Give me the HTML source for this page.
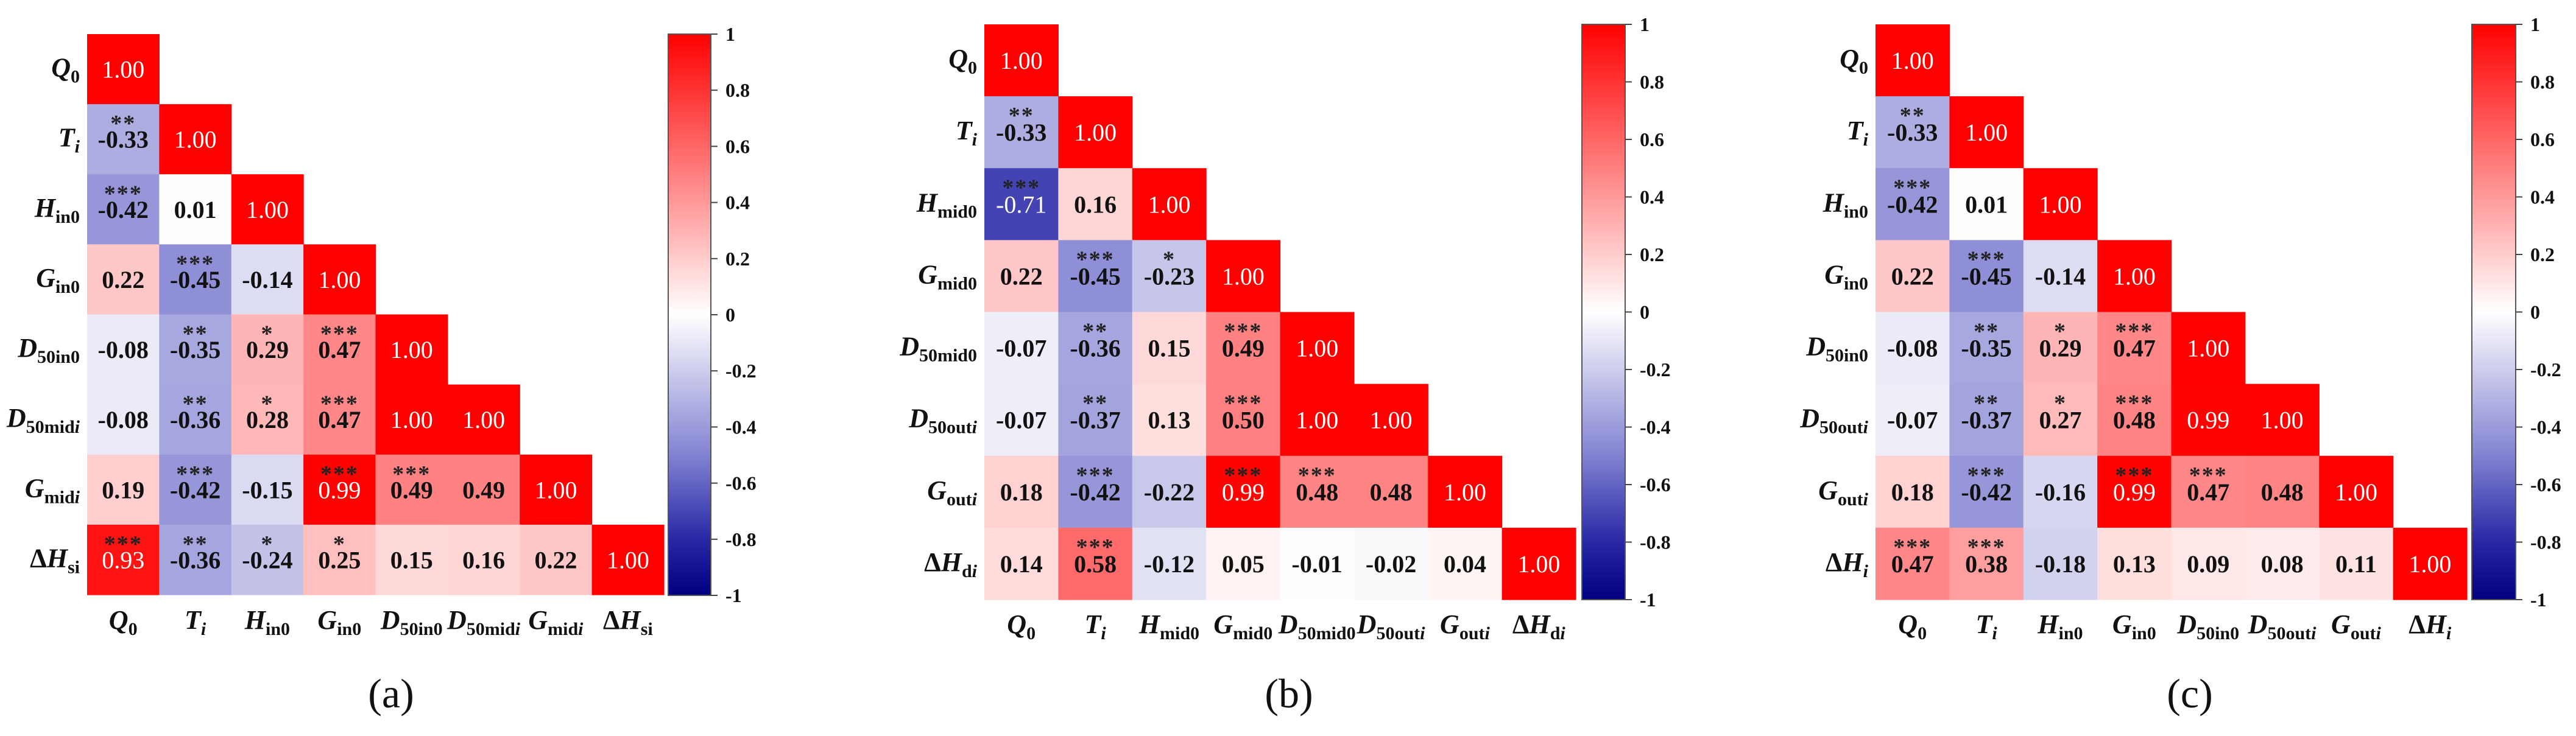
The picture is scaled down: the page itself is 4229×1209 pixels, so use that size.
<!DOCTYPE html>
<html>
<head>
<meta charset="utf-8">
<style>
html,body{margin:0;padding:0;background:#fff;}
svg{display:block;}
svg text{font-family:"Liberation Serif","Times New Roman","DejaVu Serif",serif !important;}
</style>
</head>
<body>
<svg id="fig" width="4229" height="1209" viewBox="0 0 4229 1209" xmlns="http://www.w3.org/2000/svg" font-family="'Liberation Serif', 'Times New Roman', serif">
<defs>
<linearGradient id="cbgrad" x1="0" y1="0" x2="0" y2="1">
<stop offset="0" stop-color="rgb(255,0,0)"/>
<stop offset="0.5" stop-color="rgb(255,255,255)"/>
<stop offset="0.75" stop-color="rgb(130,130,210)"/>
<stop offset="0.9" stop-color="rgb(40,40,165)"/>
<stop offset="1" stop-color="rgb(0,0,128)"/>
</linearGradient>
</defs>
</svg>
<script>
// ---- Panel (a) data ----
const labelsA = [["Q","0",""],["T","","i"],["H","in0",""],["G","in0",""],["D","50in0",""],["D","50mid","i"],["G","mid","i"],["ΔH","si",""]];
const valuesA = [
 [1.00],
 [-0.33,1.00],
 [-0.42,0.01,1.00],
 [0.22,-0.45,-0.14,1.00],
 [-0.08,-0.35,0.29,0.47,1.00],
 [-0.08,-0.36,0.28,0.47,1.00,1.00],
 [0.19,-0.42,-0.15,0.99,0.49,0.49,1.00],
 [0.93,-0.36,-0.24,0.25,0.15,0.16,0.22,1.00]
];
const starsA = [
 [""],
 ["**",""],
 ["***","",""],
 ["","***","",""],
 ["","**","*","***",""],
 ["","**","*","***","",""],
 ["","***","","***","***","",""],
 ["***","**","*","*","","","",""]
];
// ---- Panel (b) data ----
const labelsB = [["Q","0",""],["T","","i"],["H","mid0",""],["G","mid0",""],["D","50mid0",""],["D","50out","i"],["G","out","i"],["ΔH","d","i"]];
const valuesB = [
 [1.00],
 [-0.33,1.00],
 [-0.71,0.16,1.00],
 [0.22,-0.45,-0.23,1.00],
 [-0.07,-0.36,0.15,0.49,1.00],
 [-0.07,-0.37,0.13,0.50,1.00,1.00],
 [0.18,-0.42,-0.22,0.99,0.48,0.48,1.00],
 [0.14,0.58,-0.12,0.05,-0.01,-0.02,0.04,1.00]
];
const starsB = [
 [""],
 ["**",""],
 ["***","",""],
 ["","***","*",""],
 ["","**","","***",""],
 ["","**","","***","",""],
 ["","***","","***","***","",""],
 ["","***","","","","","",""]
];
// ---- Panel (c) data ----
const labelsC = [["Q","0",""],["T","","i"],["H","in0",""],["G","in0",""],["D","50in0",""],["D","50out","i"],["G","out","i"],["ΔH","","i"]];
const valuesC = [
 [1.00],
 [-0.33,1.00],
 [-0.42,0.01,1.00],
 [0.22,-0.45,-0.14,1.00],
 [-0.08,-0.35,0.29,0.47,1.00],
 [-0.07,-0.37,0.27,0.48,0.99,1.00],
 [0.18,-0.42,-0.16,0.99,0.47,0.48,1.00],
 [0.47,0.38,-0.18,0.13,0.09,0.08,0.11,1.00]
];
const starsC = [
 [""],
 ["**",""],
 ["***","",""],
 ["","***","",""],
 ["","**","*","***",""],
 ["","**","*","***","",""],
 ["","***","","***","***","",""],
 ["***","***","","","","","",""]
];
const cbTicks = [1,0.8,0.6,0.4,0.2,0,-0.2,-0.4,-0.6,-0.8,-1];
const cbTickLabels = ["1","0.8","0.6","0.4","0.2","0","-0.2","-0.4","-0.6","-0.8","-1"];
const panelNames = ["(a)","(b)","(c)"];

const NS = "http://www.w3.org/2000/svg";
const svg = document.getElementById("fig");
const FONT = "'Liberation Serif', 'Times New Roman', serif";

function colorOf(v){
  const lerp=(a,b,t)=>Math.round(a+(b-a)*t);
  if(v>=0){ return `rgb(255,${lerp(255,0,v)},${lerp(255,0,v)})`; }
  const a=-v;
  let c;
  if(a<=0.5){const t=a/0.5;c=[lerp(255,130,t),lerp(255,130,t),lerp(255,210,t)];}
  else if(a<=0.8){const t=(a-0.5)/0.3;c=[lerp(130,40,t),lerp(130,40,t),lerp(210,165,t)];}
  else {const t=(a-0.8)/0.2;c=[lerp(40,0,t),lerp(40,0,t),lerp(165,128,t)];}
  return `rgb(${c[0]},${c[1]},${c[2]})`;
}

function mk(tag, attrs, parent){
  const e=document.createElementNS(NS,tag);
  for(const k in attrs) e.setAttribute(k,attrs[k]);
  if(tag==="text") e.setAttribute("font-family",FONT);
  (parent||svg).appendChild(e);
  return e;
}

function addLabel(parent, lab, x, y, anchor, name){
  const t=mk("text",{x:x,y:y,"text-anchor":anchor,"font-size":44,"font-weight":"bold",fill:"#111"},parent);
  
  
  let main=lab[0];
  if(main.startsWith("Δ")){
    const d=mk("tspan",{},t); d.textContent="Δ";
    main=main.slice(1);
  }
  const m=mk("tspan",{"font-style":"italic"},t); m.textContent=main;
  if(lab[1]){const s=mk("tspan",{"font-size":30,dy:10},t); s.textContent=lab[1];}
  if(lab[2]){const s=mk("tspan",{"font-size":30,"font-style":"italic",dy:lab[1]?0:10},t); s.textContent=lab[2];}
}

function drawPanel(idx, P, labels, values, stars){
  const g=mk("g",{});
  
  
  const n=labels.length;
  const cw=P.gw/n, ch=P.gh/n;
  const xs=i=>P.gx+i*cw, ys=j=>P.gy+j*ch;
  for(let r=0;r<n;r++){
    for(let c=0;c<=r;c++){
      const v=values[r][c];
      const cell=mk("rect",{x:xs(c),y:ys(r),width:cw+0.6,height:ch+0.6,fill:colorOf(v)},g);
      
      
      const white = v>=0.7 || v<=-0.6;
      const tv=mk("text",{x:xs(c)+cw/2,y:ys(r)+ch/2+14,"text-anchor":"middle","font-size":40,"font-weight":white?"normal":"bold",fill:white?"#fff":"#111"},g);
      
      
      tv.textContent=v.toFixed(2);
      const st=(stars[r]&&stars[r][c])||"";
      if(st){
        const ts=mk("text",{x:xs(c)+cw/2,y:ys(r)+44,"text-anchor":"middle","font-size":38,"font-weight":"bold","letter-spacing":"2",fill:"#222"},g);
        
        
        ts.textContent=st;
      }
    }
    addLabel(g, labels[r], P.gx-12, ys(r)+ch/2+12, "end", 'row-label');
    addLabel(g, labels[r], xs(r)+cw/2, P.lblY, "middle", 'column-label');
  }
  const cbg=mk("g",{},g);
  
  
  const cbH=P.cbB-P.gy;
  mk("rect",{x:P.cbx,y:P.gy,width:P.cbw,height:cbH,fill:"url(#cbgrad)",stroke:"#555","stroke-width":2},cbg);
  const cy=v=>P.gy+(1-v)/2*cbH;
  cbTicks.forEach((tk,i)=>{
    mk("line",{x1:P.cbx+P.cbw,x2:P.cbx+P.cbw+11,y1:cy(tk),y2:cy(tk),stroke:"#444","stroke-width":2},cbg);
    const tl=mk("text",{x:P.cbx+P.cbw+24,y:cy(tk)+11,"font-size":32,"font-weight":"bold",fill:"#111"},cbg);
    
    
    tl.textContent=cbTickLabels[i];
  });
  const cap=mk("text",{x:P.capX,y:1162,"text-anchor":"middle","font-size":68,fill:"#111"},g);
  
  
  cap.textContent=panelNames[idx];
}

drawPanel(0,{gx:143,gy:56,gw:947,gh:921,cbx:1097,cbw:70,cbB:978,lblY:1033,capX:642},labelsA,valuesA,starsA);
drawPanel(1,{gx:1616,gy:40,gw:971,gh:945,cbx:2597,cbw:71,cbB:985,lblY:1040,capX:2116},labelsB,valuesB,starsB);
drawPanel(2,{gx:3079,gy:40,gw:971,gh:945,cbx:4058,cbw:72,cbB:985,lblY:1040,capX:3595},labelsC,valuesC,starsC);
</script>
</body>
</html>
